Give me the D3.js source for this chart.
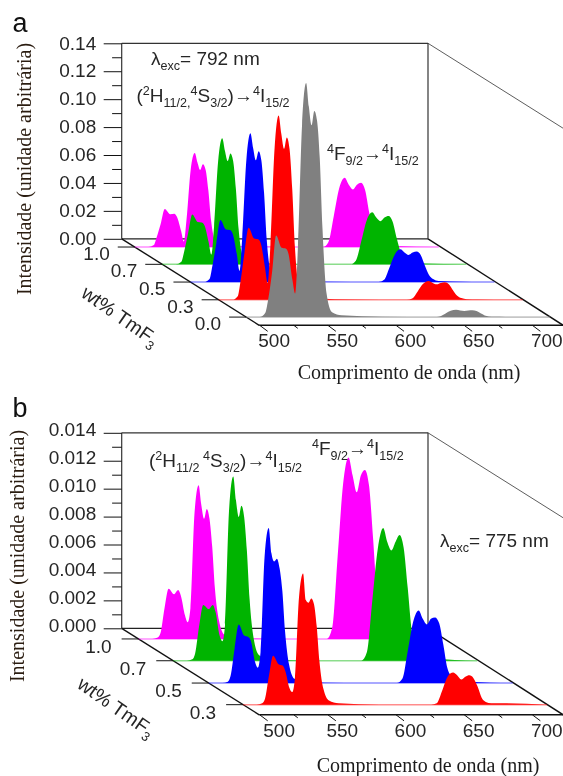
<!DOCTYPE html>
<html><head><meta charset="utf-8">
<script src="https://cdn.jsdelivr.net/npm/d3@7"></script>
<style>html,body{margin:0;background:#fff}svg{display:block;filter:blur(0.35px)}</style></head>
<body><svg id="c" width="563" height="776"></svg>
<script>
// wavelengths (nm) shared by all sampled spectra
const wavelengths = [500,510,514,516,519,522,526,529,531,534,536,538,541,544,546,548,550,552,554,556,559,563,570,600,638,642,646,650,654,657,660,663,666,669,672,675,678,682,690,723];
const xTicks = [500,550,600,650,700];
const xMinorTicks = [525,575,625,675];

// Panel a, excitation 792 nm
const aIntensityTicks = [0,0.02,0.04,0.06,0.08,0.10,0.12,0.14];
const aDepthLabels = ["1.0","0.7","0.5","0.3","0.0"];
const aMagenta = [0,0,.0014,.0068,.0165,.0272,.0235,.0238,.0215,.0115,.004,.02,.0552,.0673,.0606,.0552,.0592,.0552,.0404,.0188,.0047,.002,.0005,.0002,0,.0035,.0223,.0422,.0496,.0446,.0412,.0446,.0461,.0407,.0248,.0109,.0045,.0015,.0007,0];
const aGreen = [0,0,.0018,.0089,.0225,.0356,.0303,.0299,.0278,.016,.007,.0271,.074,.0902,.0812,.074,.0794,.074,.0541,.0253,.0063,.0027,.0007,.0002,0,.0026,.0167,.0316,.0372,.0335,.0309,.0335,.0346,.0305,.0186,.0082,.0033,.0011,.0006,0];
const aBlue = [0,0,.0022,.0111,.028,.0444,.0377,.0373,.0346,.02,.008,.032,.0873,.1065,.0959,.0873,.0937,.0873,.0639,.0298,.0075,.0032,.0009,.0002,0,.0016,.0105,.0199,.0234,.0211,.0194,.0211,.0218,.0192,.0117,.0051,.0021,.0007,.0004,0];
const aRed = [0,0,.0026,.0129,.034,.0516,.0439,.0433,.0402,.0232,.012,.0396,.108,.132,.1188,.1082,.1162,.1082,.0792,.037,.0092,.004,.0011,.0002,0,.0009,.006,.0114,.0134,.0121,.0111,.0121,.0125,.011,.0067,.0029,.0012,.0004,.0002,0];
const aGray = [0,0,.0029,.0117,.032,.0585,.0497,.0491,.0456,.0263,.0168,.0503,.1374,.1676,.1508,.1374,.1475,.1408,.114,.0637,.0168,.0035,.0013,.0003,0,.0004,.0024,.0045,.0053,.0048,.0044,.0048,.0049,.0043,.0027,.0012,.0005,.0002,.0001,0];

// Panel b, excitation 775 nm
const bIntensityTicks = [0,0.002,0.004,0.006,0.008,0.010,0.012,0.014];
const bDepthLabels = ["1.0","0.7","0.5","0.3"];
const bMagenta = [0,0,.0001,.0004,.0022,.0036,.0032,.0035,.0031,.0017,.0012,.0022,.009,.011,.0096,.0086,.0093,.0086,.0066,.0036,.0013,.0003,.0001,0,0,.0008,.0059,.0111,.013,.0117,.0105,.0117,.0121,.011,.0072,.0029,.0013,.0005,.0003,0];
const bGreen = [0,0,.0001,.0005,.0025,.004,.0037,.004,.0035,.0018,.0014,.0026,.0109,.0132,.0115,.0103,.0111,.0103,.0079,.0044,.0016,.0004,.0001,0,0,.0006,.0043,.008,.0095,.0085,.0079,.0085,.009,.0081,.0052,.0021,.0009,.0004,.0002,0];
const bBlue = [0,0,.0001,.0005,.0025,.0042,.0034,.0033,.003,.0015,.0011,.0022,.0091,.0111,.0093,.0087,.0089,.0082,.0066,.0037,.0013,.0003,.0001,0,0,.0003,.0023,.0044,.0052,.0046,.0042,.0046,.0047,.0043,.0028,.0011,.0005,.0002,.0001,0];
const bRed = [0,0,.0001,.0004,.0021,.0035,.0029,.0028,.0024,.0012,.0009,.0019,.0077,.0094,.0075,.0073,.0076,.0072,.0056,.0031,.0011,.0003,.0001,0,0,.0001,.001,.002,.0023,.0021,.0018,.002,.0021,.0019,.0013,.0005,.0002,.0001,.0001,0];

const seriesColors = {magenta:"#ff00ff",green:"#00b400",blue:"#0000ff",red:"#ff0000",gray:"#808080"};
const SANS='"Liberation Sans",Arial,sans-serif', SERIF='"Liberation Serif","Times New Roman",serif';
const TXT="#262626";

const svg=d3.select("#c");
const wallX=121.7, wallW=306.3, wallH=195.5, floorDX=137.5, floorDY=86.5, frontW=304;

function rich(g,x,y,parts,size){
  const t=g.append("text").attr("x",x).attr("y",y).attr("font-family",SANS).attr("font-size",size).attr("fill",TXT);
  let cur=0;
  parts.forEach(([s,k])=>{
    const off=k==="sup"?-7:k==="sub"?5:0;
    const sp=t.append("tspan").text(s).attr("dy",off-cur);
    if(k) sp.attr("font-size",size*0.66);
    cur=off;
  });
  return t;
}

function panel(o){
  const g=svg.append("g").attr("transform",`translate(${wallX},${o.top})`);
  const x=d3.scaleLinear().domain([500,723]).range([0,frontW]);
  const z=d3.scaleLinear().domain([0,o.zMax]).range([wallH,0]);
  const depthY=d3.scaleLinear().domain([0,1]).range([wallH,wallH+floorDY]);
  const depthX=d3.scaleLinear().domain([0,1]).range([0,floorDX]);

  const line=(a,b,c,d,w=1,col="#111")=>g.append("line").attr("x1",a).attr("y1",b).attr("x2",c).attr("y2",d).attr("stroke",col).attr("stroke-width",w);
  line(0,0,0,wallH,1.2,"#333"); line(wallW,0,wallW,wallH,1.2,"#333");
  line(0,0,wallW,0,1.2,"#333"); line(0,wallH,wallW,wallH,1.2,"#222");
  line(wallW,0,floorDX+frontW,o.diagEnd,0.8,"#333");
  line(0,wallH,floorDX,wallH+floorDY,1.4);
  line(wallW,wallH,floorDX+frontW,wallH+floorDY,1.4);

  const zMajor=d3.axisLeft(z).tickValues(o.zTicks).tickSize(18).tickFormat(d3.format(o.zFmt));
  const za=g.append("g").call(zMajor);
  za.select(".domain").remove();
  za.selectAll("line").attr("stroke","#111");
  za.selectAll("text").attr("font-family",SANS).attr("font-size",19).attr("fill",TXT)
    .attr("x",-25.5).attr("dy",o.zDy);
  const minors=d3.range(0,o.zTicks.length-1).map(i=>(o.zTicks[i]+o.zTicks[i+1])/2);
  const zMinor=d3.axisLeft(z).tickValues(minors).tickSize(9.6).tickFormat("");
  const zm=g.append("g").call(zMinor);
  zm.select(".domain").remove(); zm.selectAll("line").attr("stroke","#111");

  o.series.forEach((s,i)=>{
    const dx=depthX(s.depth), dy=depthY(s.depth);
    line(dx-17,dy,dx,dy,1,"#111");
    g.append("text").text(o.depthLabels[i]).attr("x",dx-o.depthLabelDX).attr("y",dy+o.depthLabelDY)
      .attr("text-anchor","end").attr("font-family",SANS).attr("font-size",19).attr("fill",TXT);
  });

  o.series.forEach(s=>{
    const dx=depthX(s.depth), dy=depthY(s.depth);
    const sg=g.append("g").attr("transform",`translate(${dx},${dy-wallH})`);
    sg.append("line").attr("x1",0).attr("x2",frontW).attr("y1",wallH).attr("y2",wallH)
      .attr("stroke",s.color).attr("stroke-width",1.6).attr("stroke-opacity",0.45);
    const area=d3.area().x((d,i)=>x(wavelengths[i])).y0(wallH).y1(d=>z(d)).curve(d3.curveMonotoneX);
    sg.append("path").datum(s.values).attr("d",area).attr("fill",s.color);
  });

  const gx=g.append("g").attr("transform",`translate(${floorDX},${wallH+floorDY})`);
  line(floorDX,wallH+floorDY,floorDX+frontW,wallH+floorDY,1.4);
  const xa=d3.axisBottom(x).tickValues(xTicks).tickSize(6).tickFormat(d3.format("d"));
  const xg=gx.append("g").call(xa);
  xg.select(".domain").remove();
  xg.selectAll("line").attr("x2",8).attr("stroke","#111");
  xg.selectAll("text").attr("font-family",SANS).attr("font-size",19).attr("fill",TXT)
    .attr("x",(d,i)=>i===0?14.4+o.firstXShift:14.4).attr("y",o.xLabelY).attr("dy",0);
  const xm=d3.axisBottom(x).tickValues(xMinorTicks).tickSize(3).tickFormat("");
  const xmg=gx.append("g").call(xm);
  xmg.select(".domain").remove();
  xmg.selectAll("line").attr("x2",4).attr("stroke","#111");

  svg.append("text").text(o.letter).attr("x",12.5).attr("y",o.letterY).attr("font-family",SANS).attr("font-size",27).attr("fill","#111");
  svg.append("text").text("Intensidade (unidade arbitrária)")
    .attr("transform",`translate(${o.zTitleX},${o.zTitleY}) rotate(-90)`).attr("text-anchor","middle")
    .attr("font-family",SERIF).attr("font-size",20).attr("fill","#2a1c10");
  svg.append("text").text("Comprimento de onda (nm)").attr("x",o.xTitleX).attr("y",o.xTitleY).attr("text-anchor","middle")
    .attr("font-family",SERIF).attr("font-size",20).attr("fill","#1c1c1c");
  const wt=svg.append("g").attr("transform",`translate(${o.wtX},${o.wtY}) rotate(35)`);
  rich(wt,0,0,[["wt% TmF"],["3","sub"]],19.5);

  o.notes.forEach(n=>rich(svg,n.x,n.y,n.parts,19));
}

panel({
  letter:"a",letterY:31.5,top:43.3,zMax:0.14,zTicks:aIntensityTicks,zFmt:".2f",zDy:"0.3em",diagEnd:85,
  depthLabels:aDepthLabels,depthLabelDX:25,depthLabelDY:13,xLabelY:22,firstXShift:0,
  zTitleX:31,zTitleY:169,xTitleX:409,xTitleY:379,wtX:80,wtY:296,
  series:[
    {values:aMagenta,color:seriesColors.magenta,depth:0.095},
    {values:aGreen,color:seriesColors.green,depth:0.295},
    {values:aBlue,color:seriesColors.blue,depth:0.5},
    {values:aRed,color:seriesColors.red,depth:0.705},
    {values:aGray,color:seriesColors.gray,depth:0.905}],
  notes:[
    {x:151,y:65,parts:[["λ"],["exc","sub"],["= 792 nm"]]},
    {x:136.5,y:102,parts:[["("],["2","sup"],["H"],["11/2,","sub"],["4","sup"],["S"],["3/2","sub"],[")→"],["4","sup"],["I"],["15/2","sub"]]},
    {x:327,y:160,parts:[["4","sup"],["F"],["9/2","sub"],["→"],["4","sup"],["I"],["15/2","sub"]]}]
});
panel({
  letter:"b",letterY:417,top:432.8,zMax:0.014,zTicks:bIntensityTicks,zFmt:".3f",zDy:"0.15em",diagEnd:85,
  depthLabels:bDepthLabels,depthLabelDX:27,depthLabelDY:14,xLabelY:22,firstXShift:5,
  zTitleX:24,zTitleY:556,xTitleX:428,xTitleY:772,wtX:76,wtY:687,
  series:[
    {values:bMagenta,color:seriesColors.magenta,depth:0.123},
    {values:bGreen,color:seriesColors.green,depth:0.375},
    {values:bBlue,color:seriesColors.blue,depth:0.633},
    {values:bRed,color:seriesColors.red,depth:0.883}],
  notes:[
    {x:149,y:467,parts:[["("],["2","sup"],["H"],["11/2\u00a0","sub"],["4","sup"],["S"],["3/2","sub"],[")→"],["4","sup"],["I"],["15/2","sub"]]},
    {x:312,y:455,parts:[["4","sup"],["F"],["9/2","sub"],["→"],["4","sup"],["I"],["15/2","sub"]]},
    {x:440,y:547,parts:[["λ"],["exc","sub"],["= 775 nm"]]}]
});
</script></body></html>
